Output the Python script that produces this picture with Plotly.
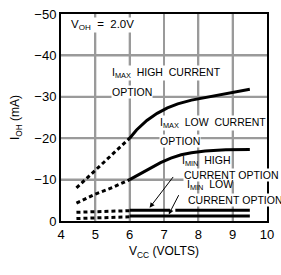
import plotly.graph_objects as go

# I_MAX high current option
imax_hi_dash_x = [4.45, 5.0, 5.5, 6.0]
imax_hi_dash_y = [-8.0, -12.2, -16.0, -20.0]
imax_hi_x = [6.0, 6.2, 6.5, 6.8, 7.1, 7.4, 7.8, 8.3, 8.8, 9.5]
imax_hi_y = [-20.0, -22.0, -24.3, -26.0, -27.3, -28.3, -29.2, -30.0, -30.8, -31.8]

# I_MAX low current option
imax_lo_dash_x = [4.45, 5.0, 5.5, 6.0]
imax_lo_dash_y = [-4.3, -6.5, -8.1, -10.0]
imax_lo_x = [6.0, 6.3, 6.6, 6.9, 7.2, 7.5, 7.8, 8.2, 8.8, 9.5]
imax_lo_y = [-10.0, -11.4, -12.8, -14.1, -15.2, -16.0, -16.5, -16.9, -17.2, -17.3]

# I_MIN high current option
imin_hi_dash_x = [4.45, 6.0]
imin_hi_dash_y = [-2.1, -2.5]
imin_hi_x = [6.0, 7.17, None, 7.33, 9.5]
imin_hi_y = [-2.6, -2.6, None, -2.6, -2.6]

# I_MIN low current option
imin_lo_dash_x = [4.45, 6.0]
imin_lo_dash_y = [-0.6, -1.0]
imin_lo_x = [6.0, 9.5]
imin_lo_y = [-1.2, -1.2]

x_ticks = [4, 5, 6, 7, 8, 9, 10]
y_ticks = [0, -10, -20, -30, -40, -50]

FONT = "Liberation Sans, Arial, sans-serif"
DASH = "4px,3px"
GRID = "#9a9a9a"
NB = "\u00a0"

fig = go.Figure()

# grid lines at the tick values
x_lo, x_hi = x_ticks[0], x_ticks[-1]
y_lo, y_hi = y_ticks[0], y_ticks[-1]
for xv in x_ticks[1:-1]:
    fig.add_shape(type="line", xref="x", yref="y", x0=xv, x1=xv, y0=y_lo, y1=y_hi,
                  line=dict(color=GRID, width=2), layer="below")
for yv in y_ticks[1:-1]:
    fig.add_shape(type="line", xref="x", yref="y", x0=x_lo, x1=x_hi, y0=yv, y1=yv,
                  line=dict(color=GRID, width=2), layer="below")

def add(x, y, dash=None):
    fig.add_trace(go.Scatter(x=x, y=y, mode="lines",
                             line=dict(color="black", width=3, dash=dash),
                             connectgaps=False, showlegend=False, hoverinfo="skip"))

add(imax_hi_dash_x, imax_hi_dash_y, DASH)
add(imax_hi_x, imax_hi_y)
add(imax_lo_dash_x, imax_lo_dash_y, DASH)
add(imax_lo_x, imax_lo_y)
add(imin_hi_dash_x, imin_hi_dash_y, DASH)
add(imin_hi_x, imin_hi_y)
add(imin_lo_dash_x, imin_lo_dash_y, DASH)
add(imin_lo_x, imin_lo_y)

labels = [
    (4.25, -47.3, f"V<sub>OH</sub>{NB}{NB}={NB}{NB}2.0V", 11.5, "white"),
    (5.46, -35.8, f"I<sub>MAX</sub>{NB}{NB}HIGH{NB}{NB}CURRENT", 10.5, "white"),
    (5.46, -31.1, "OPTION", 10.5, "white"),
    (6.86, -23.6, f"I<sub>MAX</sub>{NB}{NB}LOW{NB}{NB}CURRENT", 10.5, "white"),
    (6.86, -19.3, "OPTION", 10.5, "white"),
    (7.50, -14.4, f"I<sub>MIN</sub>{NB}{NB}HIGH", 10.5, "rgba(0,0,0,0)"),
    (7.56, -11.2, f"CURRENT{NB}OPTION", 10.5, "white"),
    (7.64, -8.8, f"I<sub>MIN</sub>{NB}{NB}LOW", 10.5, "rgba(0,0,0,0)"),
    (7.67, -5.1, f"CURRENT{NB}OPTION", 10.5, "white"),
]
annotations = []
for x, y, t, s, bg in labels:
    annotations.append(dict(x=x, y=y, xref="x", yref="y", text=t, showarrow=False,
                            xanchor="left", yanchor="middle", bgcolor=bg,
                            borderpad=0,
                            font=dict(family=FONT, size=s, color="black")))

# arrows
annotations.append(dict(x=6.58, y=-3.2, ax=7.3, ay=-11.0, xref="x", yref="y",
                        axref="x", ayref="y", text="", showarrow=True,
                        arrowhead=2, arrowsize=1, arrowwidth=1, arrowcolor="black"))
annotations.append(dict(x=7.14, y=-1.6, ax=7.45, ay=-6.6, xref="x", yref="y",
                        axref="x", ayref="y", text="", showarrow=True,
                        arrowhead=2, arrowsize=1, arrowwidth=1, arrowcolor="black"))

fig.update_layout(
    width=281, height=275,
    margin=dict(l=61, r=7, t=7, b=54),
    paper_bgcolor="white", plot_bgcolor="white",
    font=dict(family=FONT, size=12, color="black"),
    annotations=annotations,
    xaxis=dict(range=[4, 10], tickmode="array", tickvals=x_ticks, ticks="",
               showgrid=True, gridcolor=GRID, gridwidth=2,
               showline=True, linecolor="black", linewidth=2,
               mirror=True, zeroline=False, tickfont=dict(family=FONT, size=13),
               title=dict(text="V<sub>CC</sub> (VOLTS)", standoff=6,
                          font=dict(family=FONT, size=12))),
    yaxis=dict(range=[0, -50], tickmode="array", tickvals=y_ticks, ticks="",
               showgrid=True, gridcolor=GRID, gridwidth=2,
               showline=True, linecolor="black", linewidth=2,
               mirror=True, zeroline=False, tickfont=dict(family=FONT, size=13),
               title=dict(text="I<sub>OH</sub> (mA)", standoff=12,
                          font=dict(family=FONT, size=12))),
)

fig.write_html("out.html", config={"displayModeBar": False},
               post_script="document.body.style.margin='0';document.body.style.padding='0';")
